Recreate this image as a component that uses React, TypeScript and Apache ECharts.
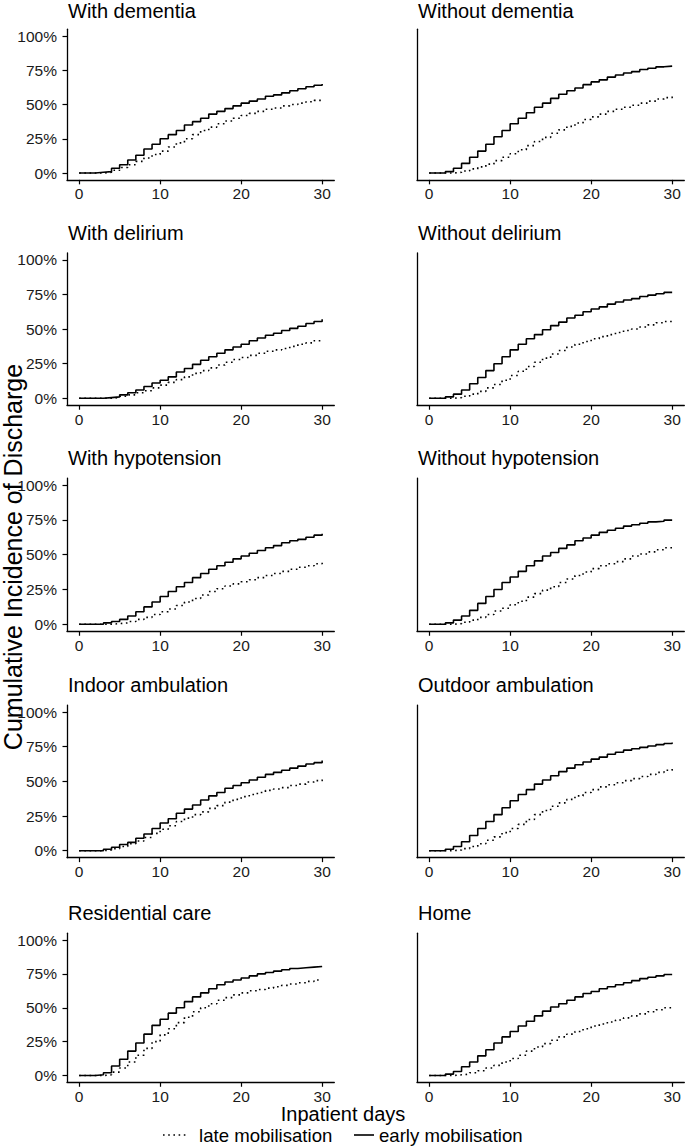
import React, { useEffect, useRef } from "react";
import * as echarts from "echarts";

const days = [0,1,2,3,4,5,6,7,8,9,10,11,12,13,14,15,16,17,18,19,20,21,22,23,24,25,26,27,28,29,30];
const xTicks = [0, 10, 20, 30];
const yTicks = [0, 25, 50, 75, 100];
const seriesNames = ["late mobilisation", "early mobilisation"];

const titles = [
  "With dementia", "Without dementia",
  "With delirium", "Without delirium",
  "With hypotension", "Without hypotension",
  "Indoor ambulation", "Outdoor ambulation",
  "Residential care", "Home",
];

const earlyWithDementia = [0,0,0.5,1,3.5,6,9.5,13,17.5,21,25,28,31,35,37.5,40,43,45,47,49,51,52.5,54,56,57,58.5,60,61.5,63,64,65];
const lateWithDementia = [0,0,0,0.5,2,4,6,8.5,11,13.5,16,19,22,25,28,31,33.5,36,38,40,42,43.5,45,46.5,47.5,49,50,51,52,53,54];
const earlyWithoutDementia = [0,0,1,3.5,7,11.5,16,21,26.5,31,36,40,44,48,51,54.5,57.5,60,62,64.5,66.5,68,70,71.5,73,74,75.5,76.5,77.5,78,78.5];
const lateWithoutDementia = [0,0,0,0.5,1.5,3,4.5,6.5,9,11.5,14,17,20,23,26,29,31.5,34,36.5,39,41,43,45,46.5,48,49.5,51,52.5,54,55,56];
const earlyWithDelirium = [0,0,0,0.5,1,2.5,4,6,8.5,11,13,15.5,19,21.5,24.5,27.5,30,32.5,35,37,39,41.5,43.5,45.5,47,49,50.5,52,54,55.5,57];
const lateWithDelirium = [0,0,0,0,0.5,1.5,2.5,4,5.5,7.5,9.5,11.5,13.5,15.5,18,20,22,24,26,28,29.5,31,32.5,34,35,36,37.5,39,40,41.5,42.5];
const earlyWithoutDelirium = [0,0,1,3,6,10.5,15,20,25,30,35,39,43,46,49.5,52.5,55,58,60,62.5,64.5,66,68,69.5,71,72,73.5,74.5,75.5,76.5,76.7];
const lateWithoutDelirium = [0,0,0,0.5,1.5,3,5,7.5,10,13,16.5,19.5,23,26,29,32,34.5,37,39,41,43,44.5,46,47.5,49,50,51.5,53,54.5,55.5,57];
const earlyWithHypotension = [0,0,0,1,2,3.5,6,9,12.5,16,20,23.5,27,30,33.5,36.5,39.5,42,44.5,47,49,51,53,55,56.5,58.5,60,61,62.5,64,65];
const lateWithHypotension = [0,0,0,0,0.5,1,2,3.5,5,7,9,11,13.5,16,18.5,21,23.5,25.5,27.5,29,30.5,32,33.5,35,36.5,38,39.5,41,42,43.5,44.5];
const earlyWithoutHypotension = [0,0,1,3,6,10,15,20,25,30,34,38,42,45.5,49,51.5,54.5,57,60,62,64,66,67.5,69,70.5,71.5,72.5,73.5,74,74.8,75];
const lateWithoutHypotension = [0,0,0,0.5,1.5,3,5,7,9.5,11.5,14,16.5,19.5,22,24.5,27,30,32.5,35,37.5,40,42,43.5,45,47,49,50.5,52,53.5,55,56];
const earlyIndoor = [0,0,0,1,2.5,4.5,6,9,12,16,20,23,27,30,33,36.5,39.5,42,45,47,49,51,53,55,56.5,58,59.5,61,62.5,63.5,65];
const lateIndoor = [0,0,0,0.5,1.5,3,5,7,9.5,12.5,15.5,18,21,23.5,26,28,30.5,32.5,35,37,39,40.5,42,43.5,44.5,45.5,47,48,49.5,50.5,51.5];
const earlyOutdoor = [0,0,1,3,6.5,11,16,21,26,31,36,40.5,44,48,51,54,57,59.5,62,64,66,67.5,69.5,71,72.5,73.5,74.5,75.5,76.5,77.3,78];
const lateOutdoor = [0,0,0,0.5,1.5,3,5,7.5,10,13,16,19,22.5,26,29,32,34.5,37,39.5,42,44,46,47.5,49,50.5,52,53.5,55,56.5,58,59];
const earlyResidential = [0,0,0.5,2,7,12,18,24,30.5,37,41.5,46,50,54.5,58,61,64,67,69,70.5,72,73.5,75,76,77,78,79,79.5,80,80.5,81];
const lateResidential = [0,0,0,0.5,2.5,5.5,10,15,20,25,30,34.5,39,43,47,50,53,55.5,57.5,59.5,61,62.5,63.5,64.5,65.5,66.5,67.5,68.5,69.5,70.5,71];
const earlyHome = [0,0,1,3,6.5,10,14.5,19,24,28.5,32.5,36.5,40,44,47.5,50.5,53,55.5,58,60.5,62,64,65.5,67,68.5,70,71.5,72.5,73.5,74.5,74.6];
const lateHome = [0,0,0,0.5,1,2,3.5,5.5,7.5,10,12.5,15,18,21,23.5,26,28.5,30.5,32.5,34.5,36.5,38,39.5,41,42.5,44,45.5,47,48.5,50,51];

const earlySets = [earlyWithDementia, earlyWithoutDementia, earlyWithDelirium, earlyWithoutDelirium, earlyWithHypotension, earlyWithoutHypotension, earlyIndoor, earlyOutdoor, earlyResidential, earlyHome];
const lateSets = [lateWithDementia, lateWithoutDementia, lateWithDelirium, lateWithoutDelirium, lateWithHypotension, lateWithoutHypotension, lateIndoor, lateOutdoor, lateResidential, lateHome];

const FONT = "'Liberation Sans', Arial, Helvetica, sans-serif";
const DOT = [1.6, 3.6];

// pixel rows: y of 0% and of 100% in each facet row
const rowZero = [173, 398.3, 624.3, 850.7, 1075.5];
const rowFull = [36, 259.8, 485, 712, 940];

export default function App() {
  const ref = useRef<HTMLDivElement>(null);
  useEffect(() => {
    if (!ref.current) return;
    const chart = echarts.init(ref.current, null, { renderer: "svg" });
    const grids: any[] = [];
    const xAxes: any[] = [];
    const yAxes: any[] = [];
    const series: any[] = [];
    const graphics: any[] = [];
    for (let i = 0; i < 10; i++) {
      const r = Math.floor(i / 2);
      const c = i % 2;
      const left = c === 0 ? 67 : 417;
      const zeroY = rowZero[r];
      const fullY = rowFull[r];
      const pp = (zeroY - fullY) / 100;
      grids.push({ left, top: fullY - 5 * pp, width: 267.3, height: 110 * pp, containLabel: false });
      xAxes.push({
        type: "value", gridIndex: i, min: -1.5, max: 31.5,
        splitLine: { show: false },
        axisLine: { onZero: false, lineStyle: { color: "#000", width: 1.3 } },
        axisTick: { customValues: xTicks, length: 4.5, lineStyle: { color: "#000", width: 1.2 } },
        axisLabel: { customValues: xTicks, margin: 6, color: "#1a1a1a", fontSize: 15.5, fontFamily: FONT },
      });
      yAxes.push({
        type: "value", gridIndex: i, min: -5, max: 105,
        splitLine: { show: false },
        axisLine: { onZero: false, lineStyle: { color: "#000", width: 1.3 } },
        axisTick: { show: c === 0, customValues: yTicks, length: 4.5, lineStyle: { color: "#000", width: 1.2 } },
        axisLabel: { show: c === 0, customValues: yTicks, margin: 10, formatter: "{value}%", color: "#1a1a1a", fontSize: 15.5, fontFamily: FONT },
      });
      series.push({
        type: "line", name: seriesNames[0], xAxisIndex: i, yAxisIndex: i, step: "end",
        symbol: "none", data: days.map((d, k) => [d, lateSets[i][k]]),
        lineStyle: { color: "#000", width: 1.6, type: DOT, cap: "butt" },
        itemStyle: { color: "#000" },
      });
      series.push({
        type: "line", name: seriesNames[1], xAxisIndex: i, yAxisIndex: i, step: "end",
        symbol: "none", data: days.map((d, k) => [d, earlySets[i][k]]),
        lineStyle: { color: "#000", width: 1.6, type: "solid" },
        itemStyle: { color: "#000" },
      });
      graphics.push({
        type: "text", x: left + 1, y: Math.max(fullY - 27, 11),
        style: { text: titles[i], fontSize: 20, fontFamily: FONT, fill: "#000", align: "left", verticalAlign: "middle" },
      });
    }
    graphics.push({
      type: "text", x: 343, y: 1114,
      style: { text: "Inpatient days", fontSize: 20, fontFamily: FONT, fill: "#000", align: "center", verticalAlign: "middle" },
    });
    graphics.push({
      type: "text", x: 13, y: 557, rotation: Math.PI / 2,
      style: { text: "Cumulative Incidence of Discharge", fontSize: 25, fontFamily: FONT, fill: "#000", align: "center", verticalAlign: "middle" },
    });
    // legend
    const legY = 1135;
    graphics.push({ type: "line", shape: { x1: 163, y1: legY, x2: 189, y2: legY }, style: { stroke: "#000", lineWidth: 1.6, lineDash: DOT, lineCap: "butt" } });
    graphics.push({ type: "text", x: 199, y: legY, style: { text: seriesNames[0], fontSize: 18.6, fontFamily: FONT, fill: "#000", align: "left", verticalAlign: "middle" } });
    graphics.push({ type: "line", shape: { x1: 354, y1: legY, x2: 374, y2: legY }, style: { stroke: "#000", lineWidth: 1.6 } });
    graphics.push({ type: "text", x: 379, y: legY, style: { text: seriesNames[1], fontSize: 18.6, fontFamily: FONT, fill: "#000", align: "left", verticalAlign: "middle" } });
    chart.setOption({
      animation: false,
      textStyle: { fontFamily: FONT },
      grid: grids,
      xAxis: xAxes,
      yAxis: yAxes,
      series,
      graphic: graphics,
    });
    return () => chart.dispose();
  }, []);
  return <div ref={ref} style={{ position: "absolute", left: 0, top: 0, width: 685, height: 1147 }} />;
}
